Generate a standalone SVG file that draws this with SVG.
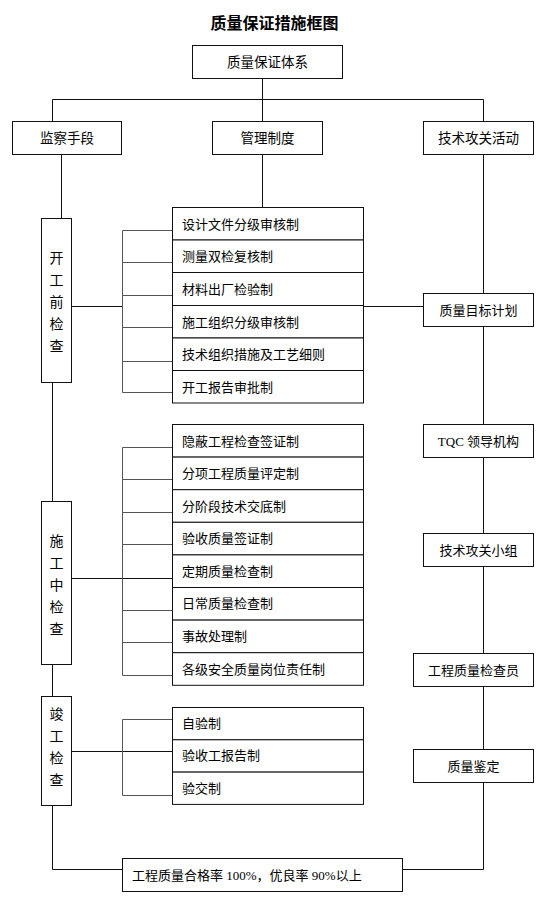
<svg xmlns="http://www.w3.org/2000/svg" width="554" height="901" viewBox="0 0 554 901">
<style>
  .bg{fill:#fff}
  .box{fill:#fff;stroke:#111;stroke-width:1}
  .ln{fill:none;stroke:#111;stroke-width:1}
  .br{fill:none;stroke:#555;stroke-width:1}
  text{font-family:"Liberation Serif","Noto Sans CJK SC",serif;font-size:13px;fill:#000;dominant-baseline:central}
  .c{text-anchor:middle}
  .h{font-size:13.5px}
  .title{font-size:16px;font-weight:bold;font-family:"Noto Sans CJK SC",sans-serif}
  .v{font-size:14px;text-anchor:middle}
</style>
<rect class="bg" x="0" y="0" width="554" height="901"/>
<text class="title c" x="274.5" y="22">质量保证措施框图</text>

<g id="connectors">
  <path class="ln" d="M262.5 78 V99.5 M52.5 121 V99.5 H483.5 V121 M262.5 99.5 V121"/>
  <path class="ln" d="M61.5 154 V218"/>
  <path class="ln" d="M262.5 154 V207"/>
  <path class="ln" d="M483.5 154 V293 M483.5 327 V424 M483.5 458 V533 M483.5 566 V653 M483.5 686 V749 M483.5 783 V869.5 H403"/>
  <path class="ln" d="M52.5 383 V501 M52.5 665 V696 M52.5 806 V869.5 H122"/>
  <path class="ln" d="M72 306.5 H122.5 M363 306.5 H423"/>
  <path class="br" d="M122.5 230.5 V392.5 M122.5 230.5 H172 M122.5 262.5 H172 M122.5 295.5 H172 M122.5 327.5 H172 M122.5 361.5 H172 M122.5 392.5 H172"/>
  <path class="ln" d="M72 578.5 H172"/>
  <path class="br" d="M122.5 447.5 V675.5 M122.5 447.5 H172 M122.5 479.5 H172 M122.5 512.5 H172 M122.5 544.5 H172 M122.5 610.5 H172 M122.5 642.5 H172 M122.5 675.5 H172"/>
  <path class="ln" d="M72 751.5 H172"/>
  <path class="br" d="M122.5 719.5 V795.5 M122.5 719.5 H172 M122.5 795.5 H172"/>
</g>

<g id="n-root"><rect class="box" x="192.5" y="45.5" width="150" height="33"/><text class="c h" x="267.5" y="62">质量保证体系</text></g>
<g id="n-jiancha"><rect class="box" x="12.5" y="121.5" width="109" height="33"/><text class="c h" x="67" y="138">监察手段</text></g>
<g id="n-guanli"><rect class="box" x="212.5" y="121.5" width="110" height="33"/><text class="c h" x="267.5" y="138">管理制度</text></g>
<g id="n-jishu"><rect class="box" x="423.5" y="121.5" width="110" height="33"/><text class="c h" x="478.5" y="138">技术攻关活动</text></g>

<g id="n-kaigong"><rect class="box" x="41.5" y="218.5" width="30" height="164"/>
  <text class="v" x="56.5" y="258">开</text><text class="v" x="56.5" y="280">工</text><text class="v" x="56.5" y="302">前</text><text class="v" x="56.5" y="324">检</text><text class="v" x="56.5" y="346">查</text></g>
<g id="n-shigong"><rect class="box" x="41.5" y="501.5" width="30" height="163"/>
  <text class="v" x="56.5" y="541">施</text><text class="v" x="56.5" y="563">工</text><text class="v" x="56.5" y="585">中</text><text class="v" x="56.5" y="607">检</text><text class="v" x="56.5" y="629">查</text></g>
<g id="n-jungong"><rect class="box" x="41.5" y="696.5" width="30" height="109"/>
  <text class="v" x="56.5" y="714">竣</text><text class="v" x="56.5" y="736">工</text><text class="v" x="56.5" y="758">检</text><text class="v" x="56.5" y="780">查</text></g>

<g id="n-g1r1"><rect class="box" x="172.5" y="207.5" width="191" height="32.5"/><text x="182" y="224">设计文件分级审核制</text></g>
<g id="n-g1r2"><rect class="box" x="172.5" y="240" width="191" height="32.5"/><text x="182" y="256.5">测量双检复核制</text></g>
<g id="n-g1r3"><rect class="box" x="172.5" y="272.5" width="191" height="33"/><text x="182" y="289">材料出厂检验制</text></g>
<g id="n-g1r4"><rect class="box" x="172.5" y="305.5" width="191" height="32.5"/><text x="182" y="322">施工组织分级审核制</text></g>
<g id="n-g1r5"><rect class="box" x="172.5" y="338" width="191" height="32.5"/><text x="182" y="354.5">技术组织措施及工艺细则</text></g>
<g id="n-g1r6"><rect class="box" x="172.5" y="370.5" width="191" height="32.5"/><text x="182" y="387">开工报告审批制</text></g>

<g id="n-g2r1"><rect class="box" x="172.5" y="424.5" width="191" height="32.6"/><text x="182" y="441">隐蔽工程检查签证制</text></g>
<g id="n-g2r2"><rect class="box" x="172.5" y="457.1" width="191" height="32.6"/><text x="182" y="473.5">分项工程质量评定制</text></g>
<g id="n-g2r3"><rect class="box" x="172.5" y="489.7" width="191" height="32.6"/><text x="182" y="506">分阶段技术交底制</text></g>
<g id="n-g2r4"><rect class="box" x="172.5" y="522.3" width="191" height="32.6"/><text x="182" y="538.6">验收质量签证制</text></g>
<g id="n-g2r5"><rect class="box" x="172.5" y="554.9" width="191" height="32.6"/><text x="182" y="571.2">定期质量检查制</text></g>
<g id="n-g2r6"><rect class="box" x="172.5" y="587.5" width="191" height="32.6"/><text x="182" y="603.8">日常质量检查制</text></g>
<g id="n-g2r7"><rect class="box" x="172.5" y="620.1" width="191" height="32.6"/><text x="182" y="636.4">事故处理制</text></g>
<g id="n-g2r8"><rect class="box" x="172.5" y="652.7" width="191" height="32.6"/><text x="182" y="669">各级安全质量岗位责任制</text></g>

<g id="n-g3r1"><rect class="box" x="172.5" y="707.5" width="191" height="32.3"/><text x="182" y="723.6">自验制</text></g>
<g id="n-g3r2"><rect class="box" x="172.5" y="739.8" width="191" height="32.3"/><text x="182" y="755.9">验收工报告制</text></g>
<g id="n-g3r3"><rect class="box" x="172.5" y="772.1" width="191" height="32.3"/><text x="182" y="788.2">验交制</text></g>

<g id="n-mubiao"><rect class="box" x="423.5" y="293.5" width="110" height="33"/><text class="c" x="478.5" y="310">质量目标计划</text></g>
<g id="n-tqc"><rect class="box" x="423.5" y="424.5" width="110" height="33"/><text class="c" x="478.5" y="441">TQC 领导机构</text></g>
<g id="n-xiaozu"><rect class="box" x="423.5" y="533.5" width="110" height="33"/><text class="c" x="478.5" y="550">技术攻关小组</text></g>
<g id="n-jianchayuan"><rect class="box" x="413.5" y="653.5" width="120" height="33"/><text class="c" x="473.5" y="670">工程质量检查员</text></g>
<g id="n-jianding"><rect class="box" x="413.5" y="749.5" width="120" height="33"/><text class="c" x="473.5" y="766">质量鉴定</text></g>

<g id="n-result"><rect class="box" x="122.5" y="858.5" width="280" height="33"/><text x="132" y="875">工程质量合格率 100%，优良率 90%以上</text></g>
</svg>
